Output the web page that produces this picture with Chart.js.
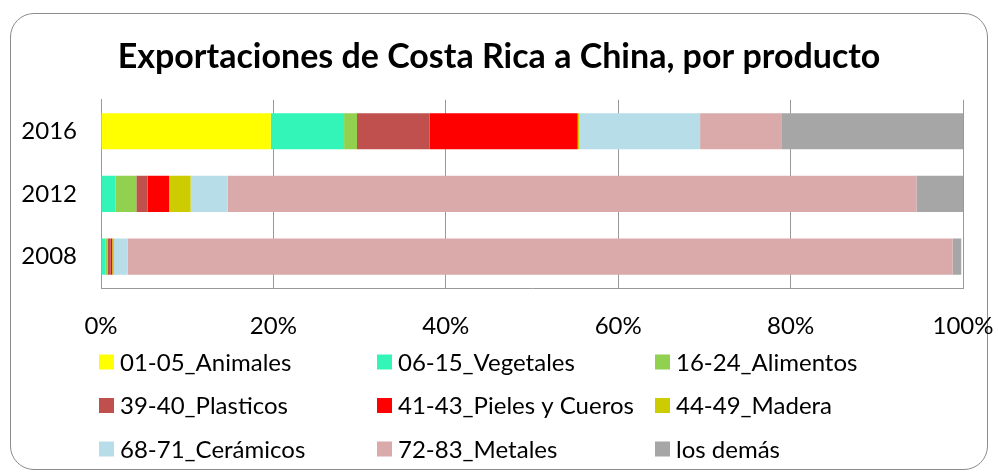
<!DOCTYPE html>
<html>
<head>
<meta charset="utf-8">
<script src="https://cdn.jsdelivr.net/npm/chart.js@4.4.1/dist/chart.umd.min.js"></script>
<style>
  body { margin: 0; background: #fff; }
  #wrap { position: relative; width: 998px; height: 476px; }
  #frame {
    position: absolute; left: 10px; top: 13px; width: 978px; height: 457px;
    border: 1.5px solid #8c8c8c; border-radius: 24px; box-sizing: border-box;
  }
  canvas { position: absolute; left: 0; top: 0; }
</style>
</head>
<body>
<div id="wrap">
  <div id="frame"></div>
  <canvas id="myChart" width="998" height="476"></canvas>
</div>
<script>
// Data

var categories = ["2016", "2012", "2008"];

var animales  = [19.7, 0, 0];
var vegetales = [8.5, 1.7, 0.5];
var alimentos = [1.5, 2.4, 0.3];
var plasticos = [8.4, 1.3, 0.3];
var pieles    = [17.2, 2.5, 0.2];
var madera    = [0.2, 2.5, 0.2];
var ceramicos = [14.0, 4.3, 1.6];
var metales   = [9.5, 79.9, 95.7];
var demas     = [21.0, 5.4, 1.0];

var seriesNames = [
  "01-05_Animales", "06-15_Vegetales", "16-24_Alimentos",
  "39-40_Plasticos", "41-43_Pieles y Cueros", "44-49_Madera",
  "68-71_Cerámicos", "72-83_Metales", "los demás"
];
var seriesValues = [animales, vegetales, alimentos, plasticos, pieles, madera, ceramicos, metales, demas];
var seriesColors = [
  "#ffff00", "#33f5b8", "#92d050",
  "#c0504d", "#ff0000", "#cccc00",
  "#b7dee8", "#daaaaa", "#a6a6a6"
];

var xTicks = [0, 20, 40, 60, 80, 100];

var titleText = "Exportaciones de Costa Rica a China, por producto";

// Chart

var FONT = "Lato, 'Open Sans', sans-serif";
Chart.defaults.font.family = FONT;
Chart.defaults.color = "#000";

// legend in 3 columns, drawn under the plot
var gridLegend = {
  id: "gridLegend",
  afterDraw: function (chart) {
    var cols = [99, 377, 655];
    var rows = [362, 405.5, 449];
    var ctx = chart.ctx;
    ctx.save();
    ctx.font = "24px " + FONT;
    ctx.textBaseline = "middle";
    chart.data.datasets.forEach(function (ds, i) {
      var x = cols[i % 3];
      var y = rows[Math.floor(i / 3)];
      ctx.fillStyle = ds.backgroundColor;
      ctx.fillRect(x, y - 7.5, 15, 15);
      ctx.fillStyle = "#000";
      ctx.fillText(ds.label, x + 21, y + 1);
    });
    ctx.restore();
  }
};

var ctx = document.getElementById("myChart").getContext("2d");
var chart = new Chart(ctx, {
  type: "bar",
  data: {
    labels: categories,
    datasets: seriesNames.map(function (name, i) {
      return {
        label: name,
        data: seriesValues[i],
        backgroundColor: seriesColors[i],
        borderWidth: 0,
        barPercentage: 1,
        categoryPercentage: 0.575
      };
    })
  },
  options: {
    indexAxis: "y",
    responsive: false,
    animation: false,
    layout: { padding: { left: 0, right: 0, top: 0, bottom: 128 } },
    plugins: {
      legend: { display: false },
      tooltip: { enabled: false },
      title: {
        display: true,
        text: titleText,
        color: "#000",
        font: { size: 34, weight: "bold" },
        padding: { top: 37, bottom: 22 }
      }
    },
    scales: {
      x: {
        stacked: true,
        min: 0,
        max: 100,
        afterBuildTicks: function (scale) {
          scale.ticks = xTicks.map(function (v) { return { value: v }; });
        },
        afterFit: function (scale) {
          scale.height = 60;
          scale.paddingLeft = 0;
          scale.paddingRight = 35;
        },
        ticks: {
          font: { size: 24 },
          padding: 24,
          callback: function (v) { return v + "%"; }
        },
        grid: { color: "#999", drawTicks: false },
        border: { color: "#999" }
      },
      y: {
        stacked: true,
        afterFit: function (scale) { scale.width = 101; },
        ticks: { font: { size: 24 }, padding: 24 },
        grid: { display: false, drawTicks: false },
        border: { display: true, color: "#999" }
      }
    }
  },
  plugins: [gridLegend]
});
</script>
</body>
</html>
